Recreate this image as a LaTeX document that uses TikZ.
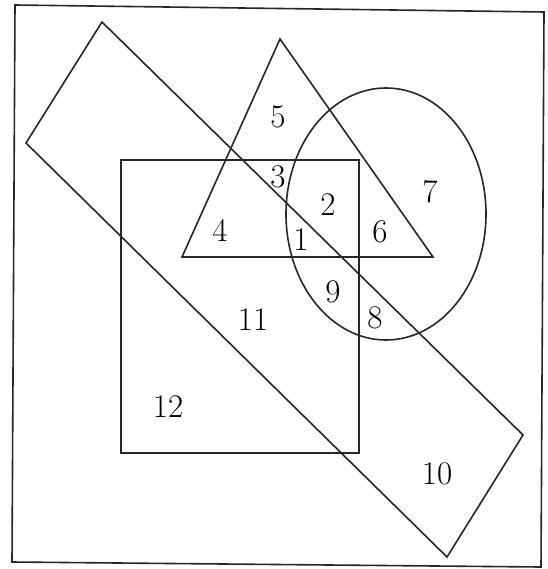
\documentclass[tikz,border=0pt]{standalone}
\usepackage{tikz}

\begin{document}
\begin{tikzpicture}[
  x=1pt, y=-1pt,
  shape line/.style={draw, line width=1.6pt, black!85},
  region/.style={font=\fontsize{33}{33}\selectfont, inner sep=0pt}
]
\useasboundingbox (0,0) rectangle (547,569);

% Outer frame
\draw[shape line] (15,5) -- (544,12) -- (541,567) -- (12,562) -- cycle;

% Tilted rectangle
\draw[shape line] (102,22) -- (523,435) -- (447,557) -- (26,143) -- cycle;

% Square
\draw[shape line] (121,160) rectangle (359,453);

% Triangle
\draw[shape line] (280,39) -- (433,257) -- (182,257) -- cycle;

% Circle
\draw[shape line] (386,214) ellipse [x radius=100, y radius=126];

% Region numbers
\node[region] (r1) at (301,240) {1};
\node[region] (r2) at (328,205) {2};
\node[region] (r3) at (278,177) {3};
\node[region] (r4) at (220,230) {4};
\node[region] (r5) at (278,117) {5};
\node[region] (r6) at (380,232) {6};
\node[region] (r7) at (430,192) {7};
\node[region] (r8) at (375,318) {8};
\node[region] (r9) at (333,292) {9};
\node[region] (r10) at (437,474) {10};
\node[region] (r11) at (253,320) {11};
\node[region] (r12) at (168,407) {12};

\end{tikzpicture}
\end{document}
